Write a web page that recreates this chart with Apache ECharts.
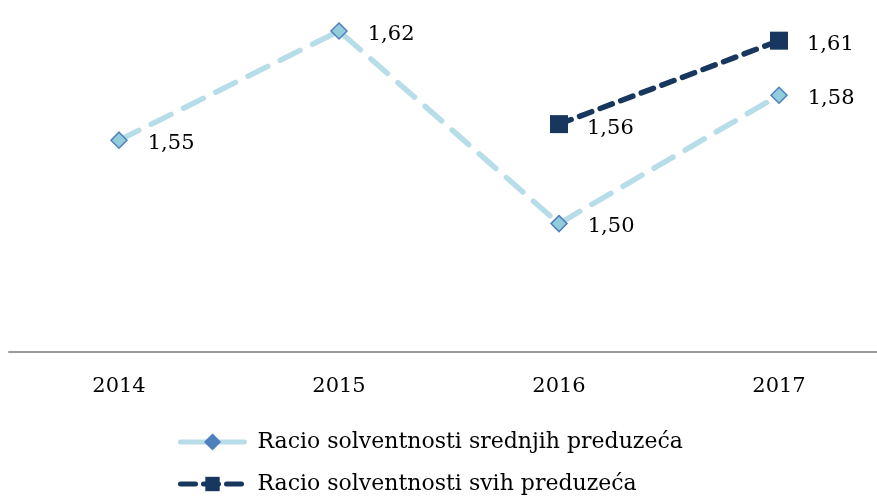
<!DOCTYPE html>
<html>
<head>
<meta charset="utf-8">
<script src="https://cdn.jsdelivr.net/npm/echarts@6/dist/echarts.min.js"></script>
<style>
  html, body { margin: 0; padding: 0; background: #fff; }
  #main { width: 877px; height: 498px; }
</style>
</head>
<body>
<div id="main"></div>
<script>
  // podaci
  var years = ['2014', '2015', '2016', '2017'];
  var srednja = [1.552, 1.62, 1.50, 1.58];
  var sva = [null, null, 1.562, 1.614];

  var serifFont = '"DejaVu Serif", "Liberation Serif", serif';

  function fmt(p) {
    return p.value.toFixed(2).replace('.', ',');
  }

  var chart = echarts.init(document.getElementById('main'));
  var option = {
    animation: false,
    grid: { left: 9, width: 880, top: 15, bottom: 146, outerBoundsMode: 'none' },
    xAxis: {
      type: 'category',
      data: years,
      axisLine: { lineStyle: { color: '#999999', width: 2 } },
      axisTick: { show: false },
      axisLabel: { color: '#000', fontFamily: serifFont, fontSize: 21, margin: 24 }
    },
    yAxis: {
      type: 'value',
      min: 1.42,
      max: 1.63,
      show: false,
      splitLine: { show: false }
    },
    legend: {
      orient: 'vertical',
      left: 173,
      top: 426,
      height: 150,
      itemWidth: 64,
      itemHeight: 18,
      itemGap: 20,
      textStyle: { color: '#000', fontFamily: serifFont, fontSize: 22, padding: [0, 0, 0, 8] },
      data: [
        {
          name: 'Racio solventnosti srednjih preduzeća',
          itemStyle: { color: '#4f81bd', borderColor: '#4f81bd' },
          lineStyle: { width: 5, type: 'solid' }
        },
        {
          name: 'Racio solventnosti svih preduzeća',
          lineStyle: { width: 5, type: [15, 8] }
        }
      ]
    },
    series: [
      {
        name: 'Racio solventnosti srednjih preduzeća',
        type: 'line',
        data: srednja,
        symbol: 'diamond',
        symbolSize: 16,
        itemStyle: { color: '#92cddc', borderColor: '#4f81bd', borderWidth: 1.5 },
        lineStyle: { color: '#b7dde8', width: 5.5, type: [22, 14], cap: 'round' },
        label: {
          show: true, position: 'right', distance: 20, offset: [0, 3],
          color: '#000', fontFamily: serifFont, fontSize: 21, formatter: fmt
        }
      },
      {
        name: 'Racio solventnosti svih preduzeća',
        type: 'line',
        data: sva,
        symbol: 'rect',
        symbolSize: 18,
        itemStyle: { color: '#17375e' },
        lineStyle: { color: '#17375e', width: 5.5, type: [13, 9], cap: 'round' },
        label: {
          show: true, position: 'right', distance: 19, offset: [0, 4],
          color: '#000', fontFamily: serifFont, fontSize: 21, formatter: fmt
        }
      }
    ]
  };
  chart.setOption(option);
</script>
</body>
</html>
